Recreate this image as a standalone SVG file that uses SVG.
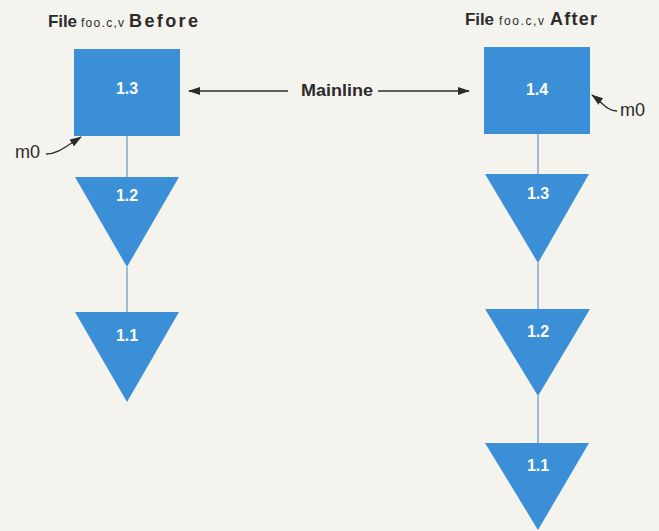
<svg xmlns="http://www.w3.org/2000/svg" width="659" height="531" viewBox="0 0 659 531">
<defs>
<style>
.bg{fill:#f4f3ee}
.node{fill:#3b8fd6}
.lbl{font-family:"Liberation Sans",Arial,sans-serif;font-weight:bold;font-size:16px;fill:#ffffff;text-anchor:middle}
.t{font-family:"Liberation Sans",Arial,sans-serif;fill:#2b2b2b}
.tb{font-weight:bold;font-size:17px}
.tw{font-weight:bold;font-size:18px}
.ts{font-size:12px}
.link{stroke:#6f9cc8;stroke-width:1.3;fill:none}
.arr{stroke:#2b2b2b;stroke-width:1.3;fill:none}
</style>
<marker id="ah" viewBox="0 0 12 8" refX="11" refY="4" markerWidth="12" markerHeight="8" markerUnits="userSpaceOnUse" orient="auto">
<path d="M0,0 L12,4 L0,8 Z" fill="#2b2b2b"/>
</marker>
</defs>
<rect class="bg" x="0" y="0" width="659" height="531"/>

<g id="titles">
<text class="t tb" x="48" y="27" textLength="29" lengthAdjust="spacing">File</text>
<text class="t ts" x="81" y="27" textLength="43" lengthAdjust="spacing">foo.c,v</text>
<text class="t tw" x="129" y="27" textLength="69" lengthAdjust="spacing">Before</text>
<text class="t tb" x="465" y="25" textLength="29" lengthAdjust="spacing">File</text>
<text class="t ts" x="499" y="25" textLength="45" lengthAdjust="spacing">foo.c,v</text>
<text class="t tw" x="550" y="25" textLength="47" lengthAdjust="spacing">After</text>
</g>

<g id="connectors">
<line class="link" x1="127" y1="136" x2="127" y2="177"/>
<line class="link" x1="127" y1="267" x2="127" y2="312"/>
<line class="link" x1="538" y1="134" x2="538" y2="174"/>
<line class="link" x1="538" y1="263" x2="538" y2="309"/>
<line class="link" x1="538" y1="396" x2="538" y2="443"/>
<line class="arr" x1="288" y1="91" x2="189" y2="91" marker-end="url(#ah)"/>
<line class="arr" x1="378" y1="91" x2="469" y2="91" marker-end="url(#ah)"/>
<path class="arr" d="M46,154 C57,154 64,148 81,137" marker-end="url(#ah)"/>
<path class="arr" d="M617,111 C607,111 603,103 592,95" marker-end="url(#ah)"/>
</g>

<g id="mainline-label">
<text class="t" x="301" y="96" font-size="17" font-weight="bold" textLength="72" lengthAdjust="spacingAndGlyphs">Mainline</text>
</g>
<g id="m0-left"><text class="t" x="15" y="158" font-size="18">m0</text></g>
<g id="m0-right"><text class="t" x="620" y="116" font-size="18">m0</text></g>

<g id="before-1.3"><rect class="node" x="74" y="49" width="106" height="87"/><text class="lbl" x="127" y="94">1.3</text></g>
<g id="before-1.2"><polygon class="node" points="75,177 179,177 127,267"/><text class="lbl" x="127" y="201">1.2</text></g>
<g id="before-1.1"><polygon class="node" points="75,312 179,312 127,402"/><text class="lbl" x="127" y="341">1.1</text></g>

<g id="after-1.4"><rect class="node" x="484" y="47" width="106" height="87"/><text class="lbl" x="537" y="95">1.4</text></g>
<g id="after-1.3"><polygon class="node" points="485,174 589,174 538,263"/><text class="lbl" x="538" y="199">1.3</text></g>
<g id="after-1.2"><polygon class="node" points="485,309 590,309 538,396"/><text class="lbl" x="538" y="337">1.2</text></g>
<g id="after-1.1"><polygon class="node" points="485,443 589,443 538,530"/><text class="lbl" x="538" y="471">1.1</text></g>
</svg>
